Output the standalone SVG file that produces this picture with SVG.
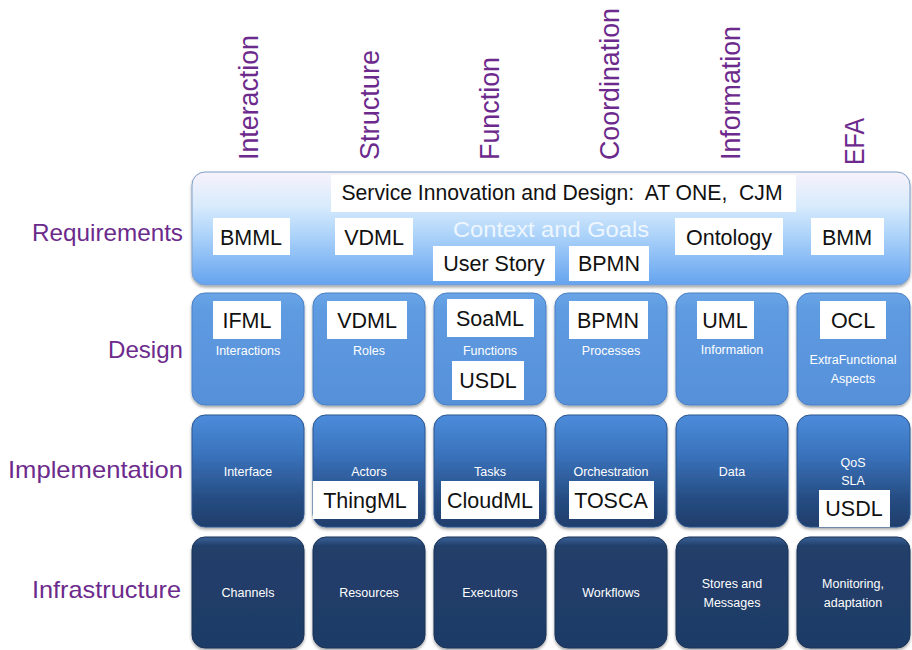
<svg xmlns="http://www.w3.org/2000/svg" width="912" height="650" viewBox="0 0 912 650">
  <defs>
    <linearGradient id="gReq" x1="0" y1="0" x2="0" y2="1">
      <stop offset="0" stop-color="#f7f2fb"/>
      <stop offset="0.3" stop-color="#d8ebfc"/>
      <stop offset="0.55" stop-color="#aed4fa"/>
      <stop offset="1" stop-color="#64a3ef"/>
    </linearGradient>
    <linearGradient id="gDes" x1="0" y1="0" x2="0" y2="1">
      <stop offset="0" stop-color="#6aa5e7"/>
      <stop offset="0.15" stop-color="#5e9be1"/>
      <stop offset="1" stop-color="#5690d9"/>
    </linearGradient>
    <linearGradient id="gImp" x1="0" y1="0" x2="0" y2="1">
      <stop offset="0" stop-color="#4c8cda"/>
      <stop offset="0.35" stop-color="#3a73bd"/>
      <stop offset="0.75" stop-color="#264c82"/>
      <stop offset="1" stop-color="#1f3e6b"/>
    </linearGradient>
    <linearGradient id="gInf" x1="0" y1="0" x2="0" y2="1">
      <stop offset="0" stop-color="#3a6399"/>
      <stop offset="0.08" stop-color="#223f6b"/>
      <stop offset="1" stop-color="#1e3b66"/>
    </linearGradient>
    <filter id="shadow" x="-10%" y="-10%" width="120%" height="125%">
      <feDropShadow dx="0" dy="2" stdDeviation="1.5" flood-color="#000" flood-opacity="0.35"/>
    </filter>
  </defs>
  <style>
    .hdr { font-family: "Liberation Sans", Arial, sans-serif; font-size: 27px; fill: #6c2a8c; }
    .row { font-family: "Liberation Sans", Arial, sans-serif; font-size: 24px; fill: #6c2a8c; }
    .req { fill: url(#gReq); stroke: #7f9fc8; stroke-width: 1; filter: url(#shadow); }
    .des { fill: url(#gDes); stroke: #4a80c4; stroke-width: 1; filter: url(#shadow); }
    .imp { fill: url(#gImp); stroke: #2c5690; stroke-width: 1; filter: url(#shadow); }
    .inf { fill: url(#gInf); stroke: #1a3357; stroke-width: 1; filter: url(#shadow); }
    .tag { fill: #ffffff; }
    .tt { font-family: "Liberation Sans", Arial, sans-serif; font-size: 21.5px; fill: #111111; text-anchor: middle; white-space: pre; }
    .cap { font-family: "Liberation Sans", Arial, sans-serif; font-size: 12.5px; fill: #ffffff; text-anchor: middle; }
    .ctx { font-family: "Liberation Sans", Arial, sans-serif; font-size: 22px; fill: #eef6ff; text-anchor: middle; }
  </style>

  <rect width="912" height="650" fill="#ffffff"/>

  <!-- column headings, rotated -->
  <g id="columns">
    <text class="hdr" transform="translate(258,160) rotate(-90)" textLength="125" lengthAdjust="spacingAndGlyphs">Interaction</text>
    <text class="hdr" transform="translate(379,160) rotate(-90)" textLength="110" lengthAdjust="spacingAndGlyphs">Structure</text>
    <text class="hdr" transform="translate(499,160) rotate(-90)" textLength="103" lengthAdjust="spacingAndGlyphs">Function</text>
    <text class="hdr" transform="translate(619,160) rotate(-90)" textLength="152" lengthAdjust="spacingAndGlyphs">Coordination</text>
    <text class="hdr" transform="translate(740,160) rotate(-90)" textLength="134" lengthAdjust="spacingAndGlyphs">Information</text>
    <text class="hdr" transform="translate(864,165) rotate(-90)" textLength="47" lengthAdjust="spacingAndGlyphs">EFA</text>
  </g>

  <!-- row headings -->
  <g id="rows">
    <text class="row" x="32" y="241" textLength="151" lengthAdjust="spacingAndGlyphs">Requirements</text>
    <text class="row" x="108" y="358" textLength="75" lengthAdjust="spacingAndGlyphs">Design</text>
    <text class="row" x="8" y="478" textLength="175" lengthAdjust="spacingAndGlyphs">Implementation</text>
    <text class="row" x="32" y="598" textLength="149" lengthAdjust="spacingAndGlyphs">Infrastructure</text>
  </g>

  <!-- Requirements band -->
  <g id="requirements">
    <rect class="req" x="192" y="172" width="718" height="113" rx="13"/>
    <rect class="tag" x="331" y="175" width="465" height="37"/>
    <text class="tt" x="562" y="200" textLength="441" lengthAdjust="spacingAndGlyphs">Service Innovation and Design:  AT ONE,  CJM</text>
    <text class="ctx" x="551" y="237" textLength="196" lengthAdjust="spacingAndGlyphs">Context and Goals</text>
    <rect class="tag" x="213" y="218" width="77" height="37"/>
    <text class="tt" x="251" y="245">BMML</text>
    <rect class="tag" x="335" y="218" width="78" height="37"/>
    <text class="tt" x="374" y="245">VDML</text>
    <rect class="tag" x="433" y="246" width="122" height="35"/>
    <text class="tt" x="494" y="271">User Story</text>
    <rect class="tag" x="569" y="246" width="80" height="35"/>
    <text class="tt" x="609" y="271">BPMN</text>
    <rect class="tag" x="675" y="218" width="108" height="37"/>
    <text class="tt" x="729" y="245">Ontology</text>
    <rect class="tag" x="811" y="218" width="73" height="37"/>
    <text class="tt" x="847" y="245">BMM</text>
  </g>

  <!-- Design row -->
  <g id="design-interaction">
    <rect class="des" x="192" y="293" width="112" height="112" rx="13"/>
    <rect class="tag" x="213" y="301" width="68" height="38"/>
    <text class="tt" x="247" y="328">IFML</text>
    <text class="cap" x="248" y="355">Interactions</text>
  </g>
  <g id="design-structure">
    <rect class="des" x="313" y="293" width="112" height="112" rx="13"/>
    <rect class="tag" x="327" y="301" width="80" height="38"/>
    <text class="tt" x="367" y="328">VDML</text>
    <text class="cap" x="369" y="355">Roles</text>
  </g>
  <g id="design-function">
    <rect class="des" x="434" y="293" width="112" height="112" rx="13"/>
    <rect class="tag" x="447" y="299" width="87" height="38"/>
    <text class="tt" x="490" y="326">SoaML</text>
    <text class="cap" x="490" y="355">Functions</text>
    <rect class="tag" x="452" y="361" width="72" height="39"/>
    <text class="tt" x="488" y="388">USDL</text>
  </g>
  <g id="design-coordination">
    <rect class="des" x="555" y="293" width="112" height="112" rx="13"/>
    <rect class="tag" x="569" y="301" width="79" height="38"/>
    <text class="tt" x="608" y="328">BPMN</text>
    <text class="cap" x="611" y="355">Processes</text>
  </g>
  <g id="design-information">
    <rect class="des" x="676" y="293" width="112" height="112" rx="13"/>
    <rect class="tag" x="697" y="301" width="57" height="38"/>
    <text class="tt" x="725" y="328">UML</text>
    <text class="cap" x="732" y="354">Information</text>
  </g>
  <g id="design-efa">
    <rect class="des" x="797" y="293" width="113" height="112" rx="13"/>
    <rect class="tag" x="820" y="301" width="66" height="38"/>
    <text class="tt" x="853" y="328">OCL</text>
    <text class="cap" x="853" y="364">ExtraFunctional</text>
    <text class="cap" x="853" y="383">Aspects</text>
  </g>

  <!-- Implementation row -->
  <g id="impl-interaction">
    <rect class="imp" x="192" y="415" width="112" height="112" rx="13"/>
    <text class="cap" x="248" y="476">Interface</text>
  </g>
  <g id="impl-structure">
    <rect class="imp" x="313" y="415" width="112" height="112" rx="13"/>
    <text class="cap" x="369" y="476">Actors</text>
    <rect class="tag" x="313" y="481" width="105" height="38"/>
    <text class="tt" x="365" y="508">ThingML</text>
  </g>
  <g id="impl-function">
    <rect class="imp" x="434" y="415" width="112" height="112" rx="13"/>
    <text class="cap" x="490" y="476">Tasks</text>
    <rect class="tag" x="441" y="481" width="98" height="38"/>
    <text class="tt" x="490" y="508">CloudML</text>
  </g>
  <g id="impl-coordination">
    <rect class="imp" x="555" y="415" width="112" height="112" rx="13"/>
    <text class="cap" x="611" y="476">Orchestration</text>
    <rect class="tag" x="569" y="481" width="85" height="38"/>
    <text class="tt" x="611" y="508">TOSCA</text>
  </g>
  <g id="impl-information">
    <rect class="imp" x="676" y="415" width="112" height="112" rx="13"/>
    <text class="cap" x="732" y="476">Data</text>
  </g>
  <g id="impl-efa">
    <rect class="imp" x="797" y="415" width="113" height="112" rx="13"/>
    <text class="cap" x="853" y="467">QoS</text>
    <text class="cap" x="853" y="485">SLA</text>
    <rect class="tag" x="819" y="490" width="71" height="37"/>
    <text class="tt" x="854" y="516">USDL</text>
  </g>

  <!-- Infrastructure row -->
  <g id="infra-interaction">
    <rect class="inf" x="192" y="537" width="112" height="111" rx="13"/>
    <text class="cap" x="248" y="597">Channels</text>
  </g>
  <g id="infra-structure">
    <rect class="inf" x="313" y="537" width="112" height="111" rx="13"/>
    <text class="cap" x="369" y="597">Resources</text>
  </g>
  <g id="infra-function">
    <rect class="inf" x="434" y="537" width="112" height="111" rx="13"/>
    <text class="cap" x="490" y="597">Executors</text>
  </g>
  <g id="infra-coordination">
    <rect class="inf" x="555" y="537" width="112" height="111" rx="13"/>
    <text class="cap" x="611" y="597">Workflows</text>
  </g>
  <g id="infra-information">
    <rect class="inf" x="676" y="537" width="112" height="111" rx="13"/>
    <text class="cap" x="732" y="588">Stores and</text>
    <text class="cap" x="732" y="607">Messages</text>
  </g>
  <g id="infra-efa">
    <rect class="inf" x="797" y="537" width="113" height="111" rx="13"/>
    <text class="cap" x="853" y="588">Monitoring,</text>
    <text class="cap" x="853" y="607">adaptation</text>
  </g>
</svg>
